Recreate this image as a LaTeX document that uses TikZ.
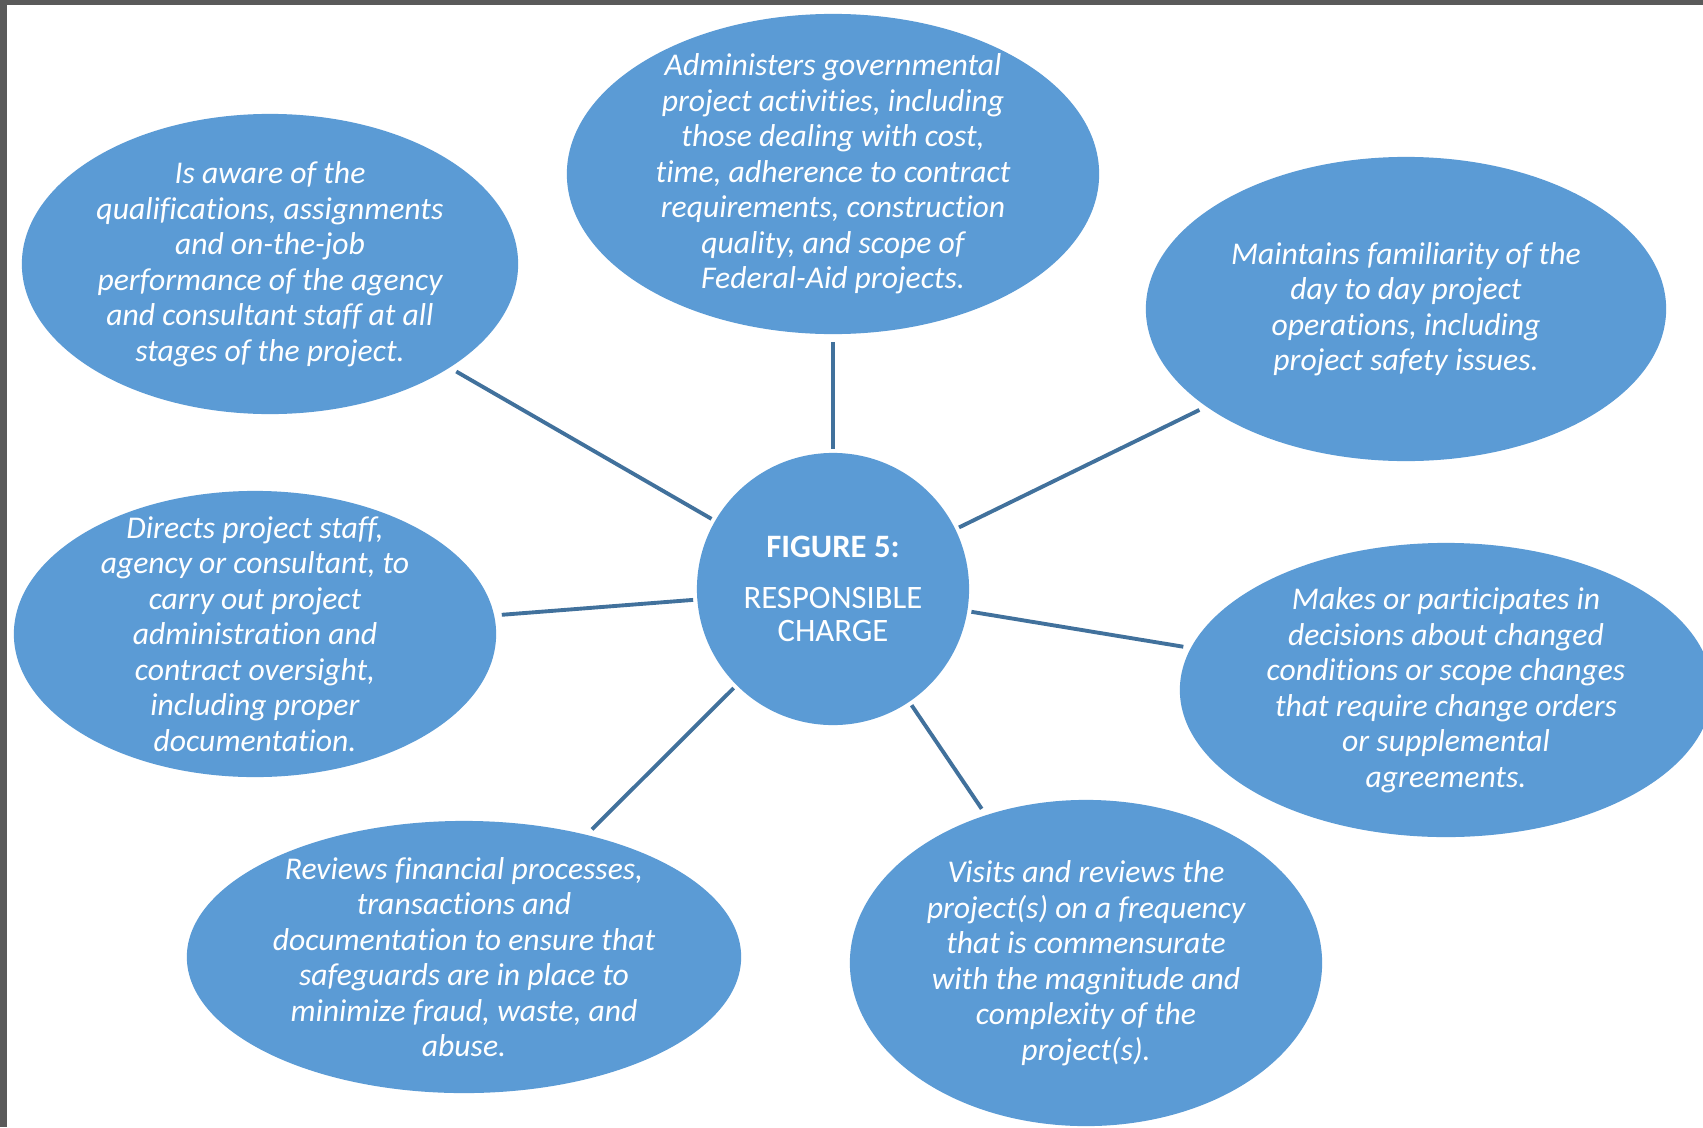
\documentclass[tikz,border=0pt]{standalone}
\usepackage{fontspec}
\setmainfont{Carlito}[Ligatures=NoCommon]
\usetikzlibrary{shapes.geometric}
\definecolor{bubble}{HTML}{5B9BD5}
\definecolor{spokeblue}{HTML}{41719C}
\definecolor{frame}{HTML}{5A5A5A}
\tikzset{
	duty/.style={ellipse, fill=bubble, inner sep=0pt},
	dutytext/.style={text=white, align=center, inner sep=0pt,
		font=\fontsize{9}{10.1}\selectfont\itshape},
	hubnode/.style={circle, fill=bubble, inner sep=0pt, minimum size=2.72cm, text=white, align=center,
		font=\fontsize{9.3}{9.6}\selectfont},
	spoke/.style={draw=spokeblue, line width=1.1pt, shorten <=1pt, shorten >=2pt}
}

\begin{document}
\begin{tikzpicture}[x=0.01cm, y=-0.01cm]
		\fill[frame] (0,0) rectangle (1703,1127);
		\fill[white] (7,5) rectangle (1703,1127);
		\useasboundingbox (0,0) rectangle (1703,1127);
		\node[hubnode] (hub) at (833,589) {\textbf{FIGURE 5:}\\[4.8pt] RESPONSIBLE\\ CHARGE};
		\node[duty, minimum width=5.32cm, minimum height=3.2cm,
			label={[dutytext]center:{Administers governmental\\ project activities, including\\ those dealing with cost,\\ time, adherence to contract\\ requirements, construction\\ quality, and scope of\\ Federal-Aid projects.}}] (admin) at (833,174) {};
		\node[duty, minimum width=4.96cm, minimum height=3cm,
			label={[dutytext]center:{Is aware of the\\ qualifications, assignments\\ and on-the-job\\ performance of the agency\\ and consultant staff at all\\ stages of the project.}}] (aware) at (270,264) {};
		\node[duty, minimum width=5.2cm, minimum height=3.04cm,
			label={[dutytext]center:{Maintains familiarity of the\\ day to day project\\ operations, including\\ project safety issues.}}] (familiar) at (1406,309) {};
		\node[duty, minimum width=4.82cm, minimum height=2.86cm,
			label={[dutytext]center:{Directs project staff,\\ agency or consultant, to\\ carry out project\\ administration and\\ contract oversight,\\ including proper\\ documentation.}}] (directs) at (255,634) {};
		\node[duty, minimum width=5.32cm, minimum height=2.94cm,
			label={[dutytext]center:{Makes or participates in\\ decisions about changed\\ conditions or scope changes\\ that require change orders\\ or supplemental\\ agreements.}}] (decides) at (1446,690) {};
		\node[duty, minimum width=5.54cm, minimum height=2.72cm,
			label={[dutytext]center:{Reviews financial processes,\\ transactions and\\ documentation to ensure that\\ safeguards are in place to\\ minimize fraud, waste, and\\ abuse.}}] (reviews) at (464,957) {};
		\node[duty, minimum width=4.72cm, minimum height=3.26cm,
			label={[dutytext]center:{Visits and reviews the\\ project(s) on a frequency\\ that is commensurate\\ with the magnitude and\\ complexity of the\\ project(s).}}] (visits) at (1086,963) {};
		\foreach \duty in {admin, aware, familiar, directs, decides, reviews, visits}
			\draw[spoke] (hub) -- (\duty);
	\end{tikzpicture}
\end{document}
